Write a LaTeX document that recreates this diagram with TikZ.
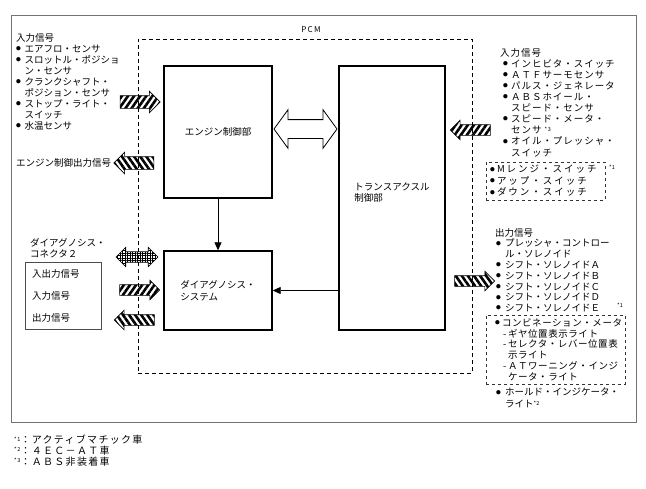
\documentclass[tikz,border=0pt]{standalone}
\usepackage{fontspec}
\usepackage{graphicx}
\setmainfont{Noto Sans CJK JP}
\usetikzlibrary{shapes.arrows,patterns.meta,arrows.meta}

\newcommand{\bul}[1][8.5pt]{\makebox[#1][l]{\raisebox{1.8pt}{\scalebox{0.5}{●}}}}
\newcommand{\fn}[1]{\raisebox{2.5pt}{\fontsize{5.5}{5.5}\selectfont *#1}}
\newcommand{\rb}{\hspace*{3pt}\bul[8pt]}
\newcommand{\rc}{\hspace*{11pt}}
\newcommand{\ob}{\hspace*{1pt}\bul[9pt]}
\newcommand{\oc}{\hspace*{10pt}}
\newcommand{\sub}{\hspace*{8pt}\makebox[5pt][l]{-}}

\tikzset{
	txt/.style={font=\fontsize{9.5}{11}\selectfont, inner sep=0pt, align=left},
	frame/.style={draw=black!55, line width=1pt},
	pcmbox/.style={draw, line width=0.8pt, dash pattern=on 4pt off 3pt, inner sep=0pt},
	ctrlbox/.style={draw, line width=1.4pt, inner sep=0pt, align=left, font=\fontsize{9.5}{12.5}\selectfont},
	dashbox/.style={draw=black!80, line width=0.6pt, dash pattern=on 3pt off 3pt, align=left},
	conn/.style={line width=0.8pt, -{Triangle[length=8pt,width=7pt]}},
	hatchin/.style={single arrow, draw, line width=0.6pt, inner xsep=0pt, inner ysep=5pt,
		minimum height=40pt, single arrow head extend=4.5pt,
		pattern={Lines[angle=55,distance=5pt,line width=2.6pt]}},
	hatchout/.style={hatchin, pattern={Lines[angle=-55,distance=5pt,line width=2.6pt]}},
	tolft/.style={shape border rotate=180},
	gridarrow/.style={double arrow, draw, line width=0.6pt, inner xsep=0pt, inner ysep=5pt,
		minimum height=42pt, double arrow head extend=4.5pt,
		pattern={Hatch[distance=2.5pt,line width=0.5pt]}},
	link/.style={double arrow, draw, fill=white, line width=0.8pt, inner xsep=0pt, inner ysep=9pt,
		minimum height=63pt, double arrow head extend=10pt,
		double arrow tip angle=108},
	note/.style={font=\fontsize{5.5}{5.5}\selectfont, inner sep=0pt}
}

\begin{document}
\begin{tikzpicture}[x=1pt,y=-1pt]
			\useasboundingbox (0,0) rectangle (646,488);
			\draw[frame] (11,15) rectangle (636,422);
			\node[pcmbox, minimum width=334pt, minimum height=334pt] (pcm) at (305,206) {};
			\node[txt, font=\fontsize{8}{8}\selectfont] (pcmlbl) at (311,30) {P\,C\,M};
			% Steuergeraete im PCM
			\node[ctrlbox, minimum width=108pt, minimum height=132pt] (ecu) at (218,132) {エンジン制御部};
			\node[ctrlbox, minimum width=106pt, minimum height=264pt] (tcm) at (392,198) {};
			\node[txt] (tcmlbl) at (392,193) {トランスアクスル\\制御部};
			\node[ctrlbox, minimum width=108pt, minimum height=79pt] (diag) at (218,290.5) {ダイアグノシス・\\システム};
			\node[link] (lnk) at (305.5,129) {};
			\draw[conn] (ecu) -- (diag);
			\draw[conn] (tcm.west |- diag.east) -- (diag.east);
			% links: Motor
			\node[txt, anchor=north west] (ein) at (16,33) {入力信号\\
				\bul エアフロ・センサ\\
				\bul スロットル・ポジショ\\
				\hspace*{8.5pt}ン・センサ\\
				\bul クランクシャフト・\\
				\hspace*{8.5pt}ポジション・センサ\\
				\bul ストップ・ライト・\\
				\hspace*{8.5pt}スイッチ\\
				\bul 水温センサ};
			\node[hatchin] (ecuin) at (137,102) {};
			\node[txt, anchor=west] (eout) at (16,163) {エンジン制御出力信号};
			\node[hatchout, tolft] (ecuout) at (137,163) {};
			% links: Diagnose
			\node[txt, anchor=north west] (dlclbl) at (30,238) {ダイアグノシス・\\コネクタ２};
			\node[draw=black!70, line width=0.6pt, font=\fontsize{9.5}{22}\selectfont, align=left,
				text width=62pt, inner xsep=7pt, minimum height=67pt] (dlc) at (63,295.5) {入出力信号\\入力信号\\出力信号};
			\node[gridarrow] (dlcio) at (137,257) {};
			\node[hatchin] (dlcin) at (137,290) {};
			\node[hatchout, tolft] (dlcout) at (137,320) {};
			% rechts: Getriebe
			\node[txt, anchor=north west, font=\fontsize{9.5}{11.1}\selectfont\addfontfeatures{LetterSpace=10}] (tin) at (500,48) {入力信号\\
				\rb インヒビタ・スイッチ\\
				\rb ＡＴＦサーモセンサ\\
				\rb パルス・ジェネレータ\\
				\rb ＡＢＳホイール・\\
				\rc スピード・センサ\\
				\rb スピード・メータ・\\
				\rc センサ \fn{3}\\
				\rb オイル・プレッシャ・\\
				\rc スイッチ};
			\node[hatchin, tolft] (tcmin) at (473,130) {};
			\node[dashbox, font=\fontsize{9.5}{11.5}\selectfont\addfontfeatures{LetterSpace=21},
				text width=111pt, inner xsep=4pt, minimum height=36pt] (arm) at (545.5,181) {\bul[7pt]Mレンジ・スイッチ\\
				\bul[7pt]アップ・スイッチ\\
				\bul[7pt]ダウン・スイッチ};
			\node[note] (n1a) at (612,167) {*1};
			\node[txt, anchor=north west, font=\fontsize{9.5}{10.8}\selectfont] (tout) at (495,228) {出力信号\\
				\ob プレッシャ・コントロー\\
				\oc ル・ソレノイド\\
				\ob シフト・ソレノイドＡ\\
				\ob シフト・ソレノイドＢ\\
				\ob シフト・ソレノイドＣ\\
				\ob シフト・ソレノイドＤ\\
				\ob シフト・ソレノイドＥ};
			\node[hatchout] (tcmout) at (472,281) {};
			\node[note] (n1b) at (620,305) {*1};
			\node[dashbox, font=\fontsize{9.5}{10.8}\selectfont\addfontfeatures{LetterSpace=6},
				text width=121pt, inner xsep=9pt, minimum height=67pt] (cmb) at (555.5,349.5) {\bul[7pt]コンビネーション・メータ\\
				\sub ギヤ位置表示ライト\\
				\sub セレクタ・レバー位置表\\
				\hspace*{13pt}示ライト\\
				\sub ＡＴワーニング・インジ\\
				\hspace*{13pt}ケータ・ライト};
			\node[txt, anchor=north west, font=\fontsize{9.5}{12}\selectfont] (hold) at (495,388) {\ob ホールド・インジケータ・\\
				\oc ライト\fn{2}};
			% Fussnoten
			\node[txt, anchor=north west, font=\fontsize{10}{10.7}\selectfont\addfontfeatures{LetterSpace=13}] (notes) at (14,435) {\fn{1}：アクティブマチック車\\
				\fn{2}：４ＥＣ－ＡＴ車\\
				\fn{3}：ＡＢＳ非装着車};
\end{tikzpicture}
\end{document}
